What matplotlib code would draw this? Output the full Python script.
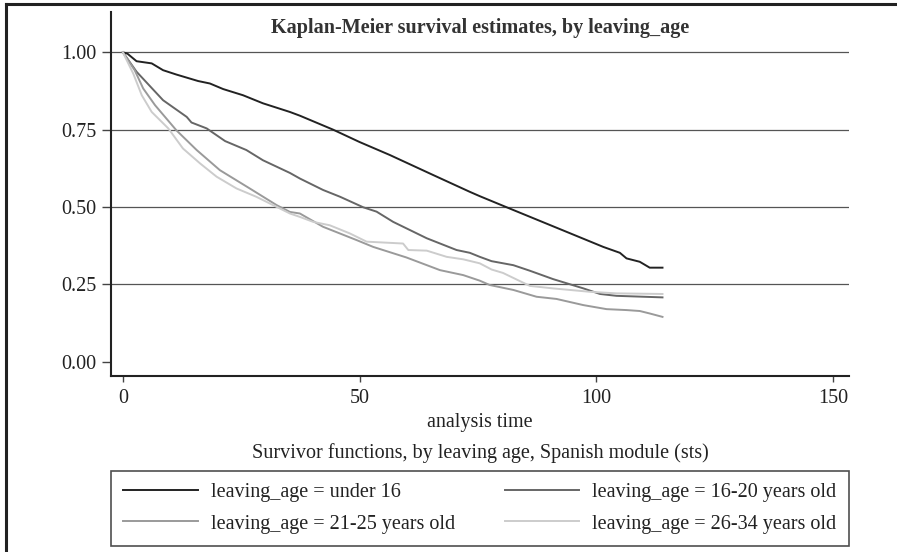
import matplotlib
matplotlib.use("Agg")
import matplotlib.pyplot as plt
from matplotlib.lines import Line2D

# Kaplan-Meier survivor functions, by leaving_age
t_u16 = [0, 1, 2.9, 6.1, 8.5, 11.3, 15.9, 18.4, 21.2, 25.4, 29.6, 35.3, 37.4, 44.4, 50,
         56.4, 65.6, 73.3, 75.4, 81.1, 93.7, 101.5, 105, 106.4, 109.2, 111.3, 114]
s_u16 = [1.0, 0.995, 0.971, 0.964, 0.942, 0.928, 0.907, 0.899, 0.881, 0.861, 0.835, 0.807,
         0.795, 0.75, 0.71, 0.668, 0.603, 0.549, 0.535, 0.499, 0.42, 0.371, 0.352, 0.334,
         0.323, 0.304, 0.304]

t_1620 = [0, 2.9, 8.5, 13.5, 14.5, 17.7, 21.6, 26.1, 29.6, 35.3, 37.4, 42.3, 45.9, 50.8,
          53.6, 57.1, 64.2, 70.5, 73.3, 75.4, 77.9, 82.5, 86.0, 90.9, 97.3, 100.8, 104.3, 114]
s_1620 = [1.0, 0.937, 0.845, 0.791, 0.773, 0.754, 0.713, 0.684, 0.651, 0.61, 0.592, 0.555,
          0.533, 0.499, 0.485, 0.452, 0.399, 0.361, 0.352, 0.339, 0.325, 0.312, 0.294,
          0.267, 0.237, 0.219, 0.213, 0.208]

t_2125 = [0, 2.5, 4.3, 6.8, 11.3, 15.6, 20.5, 26.8, 32.5, 35.3, 37.4, 42.3, 49.4, 52.9,
          59.9, 67.0, 71.9, 75.4, 77.5, 82.5, 87.4, 91.6, 97.3, 102.2, 106.4, 109.2, 111.3, 114]
s_2125 = [1.0, 0.942, 0.883, 0.829, 0.748, 0.684, 0.619, 0.56, 0.506, 0.484, 0.479, 0.436,
          0.393, 0.371, 0.337, 0.296, 0.28, 0.262, 0.248, 0.232, 0.21, 0.203, 0.183, 0.170,
          0.167, 0.164, 0.156, 0.145]

t_2634 = [0, 2.2, 4.0, 6.1, 9.6, 12.7, 16.3, 19.8, 24.0, 28.2, 33.2, 35.3, 37.4, 40.2,
          43.7, 47.9, 51.5, 59.2, 60.3, 64.2, 68.4, 71.9, 75.4, 77.9, 80.3, 86.0, 90.9,
          98.7, 104.3, 114]
s_2634 = [1.0, 0.931, 0.861, 0.807, 0.754, 0.689, 0.641, 0.598, 0.56, 0.533, 0.495, 0.479,
          0.468, 0.452, 0.441, 0.415, 0.388, 0.382, 0.361, 0.359, 0.339, 0.331, 0.318,
          0.298, 0.287, 0.245, 0.237, 0.226, 0.221, 0.219]

labels = ["leaving_age = under 16", "leaving_age = 16-20 years old",
          "leaving_age = 21-25 years old", "leaving_age = 26-34 years old"]
colors = ["#222222", "#666666", "#9a9a9a", "#cccccc"]
y_ticks = [0.0, 0.25, 0.5, 0.75, 1.0]
x_ticks = [0, 50, 100, 150]

FS = 14.5
TXT = "#222222"
plt.rcParams["font.family"] = ["Liberation Serif", "DejaVu Serif"]

fig = plt.figure(figsize=(8.97, 5.52), dpi=100)
W, H = 897, 552
ax = fig.add_axes([111 / W, 1 - 376 / H, (849 - 111) / W, (376 - 12) / H])

for yv in y_ticks[1:]:
    ax.axhline(yv, color="#555555", linewidth=0.9, zorder=1)

series = [(t_u16, s_u16), (t_1620, s_1620), (t_2125, s_2125), (t_2634, s_2634)]
lines = []
for (t, s), c, lab in zip(series, colors, labels):
    ln, = ax.plot(t, s, color=c, linewidth=1.4, label=lab, zorder=3)
    lines.append(ln)

ax.set_xlim(-2.5, 153.4)
ax.set_ylim(-0.046, 1.13)
ax.set_yticks(y_ticks)
ax.set_yticklabels([f"{v:.2f}" for v in y_ticks])
ax.set_xticks(x_ticks)
for side in ["top", "right"]:
    ax.spines[side].set_visible(False)
for side in ["left", "bottom"]:
    ax.spines[side].set_linewidth(1.5)
    ax.spines[side].set_color("#222222")
ax.tick_params(axis="y", length=6.5, width=1, color="#444444", pad=4,
               labelsize=FS, labelcolor=TXT)
ax.tick_params(axis="x", length=4.5, width=1, color="#444444", pad=5,
               labelsize=FS, labelcolor=TXT)

ax.text(0.5, (376 - 28) / 364, "Kaplan-Meier survival estimates, by leaving_age",
        transform=ax.transAxes, ha="center", va="center", fontsize=FS,
        fontweight="bold", color="#333333")

fig.text(480 / W, 1 - 423 / H, "analysis time", ha="center", va="center",
         fontsize=FS, color=TXT)
fig.text(480 / W, 1 - 453 / H, "Survivor functions, by leaving age, Spanish module (sts)",
         ha="center", va="center", fontsize=FS, color=TXT)

# legend: 2 columns, filled column-wise
order = [0, 2, 1, 3]
leg = fig.legend([lines[i] for i in order], [labels[i] for i in order], ncol=2,
                 loc="lower left", mode="expand",
                 bbox_to_anchor=(111 / W, 1 - 546 / H, (849 - 111) / W, (546 - 472) / H),
                 fontsize=FS, frameon=True, fancybox=False, borderaxespad=0,
                 handlelength=3.7, handletextpad=0.65, labelspacing=0.6,
                 borderpad=0.62)
leg.get_frame().set_edgecolor("#222222")
leg.get_frame().set_linewidth(1.2)
for txt in leg.get_texts():
    txt.set_color(TXT)

# outer frame (left and top edges only)
fig.add_artist(Line2D([6 / W, 6 / W], [0, 1 - 4 / H], color="#222222", linewidth=2.2))
fig.add_artist(Line2D([6 / W, 1], [1 - 4 / H, 1 - 4 / H], color="#222222", linewidth=2.2))

fig.savefig("out.png", dpi=100)
